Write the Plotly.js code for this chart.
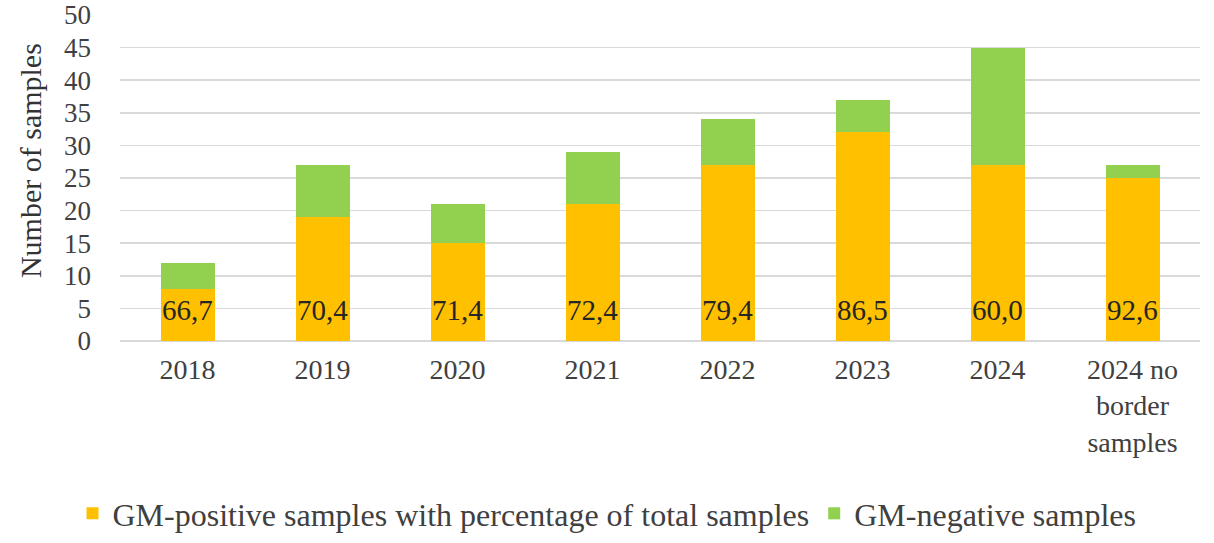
<!DOCTYPE html>
<html>
<head>
<meta charset="utf-8">
<script src="https://cdn.plot.ly/plotly-3.0.1.min.js"></script>
<style>html,body{margin:0;padding:0;background:#fff;}#chart{width:1214px;height:543px;}</style>
</head>
<body>
<div id="chart"></div>
<script>
const categories = ["2018","2019","2020","2021","2022","2023","2024","2024 no border samples"];
const tickLabels = ["2018","2019","2020","2021","2022","2023","2024","2024 no<br>border<br>samples"];
const positiveSamples = [8, 19, 15, 21, 27, 32, 27, 25];
const negativeSamples = [4, 8, 6, 8, 7, 5, 18, 2];
const percentLabels = ["66,7","70,4","71,4","72,4","79,4","86,5","60,0","92,6"];
const yTicks = [0,5,10,15,20,25,30,35,40,45,50];
const yTitle = "Number of samples";

const serif = "'Liberation Serif', 'Times New Roman', serif";

const traces = [
  {type:'bar', name:'GM-positive samples with percentage of total samples', x:categories, y:positiveSamples,
   marker:{color:'#FFC000'}, hoverinfo:'none'},
  {type:'bar', name:'GM-negative samples', x:categories, y:negativeSamples,
   marker:{color:'#92D050'}, hoverinfo:'none'}
];

const annotations = categories.map((c,i)=>({
  x:i, y:5, xref:'x', yref:'y', text:percentLabels[i], showarrow:false, yshift:-2,
  font:{family:serif, size:29, color:'#262626'}
}));
annotations.push({
  xref:'paper', yref:'paper', x:-0.083, y:0.553, xanchor:'center', yanchor:'middle',
  text:yTitle, textangle:-90, showarrow:false,
  font:{family:serif, size:30, color:'#333'}
});

const layout = {
  width:1214, height:543,
  margin:{l:120, r:14, t:15, b:202, autoexpand:false},
  barmode:'stack', bargap:0.6,
  paper_bgcolor:'#fff', plot_bgcolor:'#fff',
  font:{family:serif, size:27, color:'#404040'},
  xaxis:{type:'category', categoryorder:'array', categoryarray:categories,
         tickmode:'array', tickvals:categories, ticktext:tickLabels,
         tickfont:{family:serif, size:28, color:'#404040'}, showgrid:false, zeroline:false,
         showline:false, ticks:'', automargin:false, ticklabelstandoff:9},
  yaxis:{range:[0,50], tickvals:yTicks, showgrid:true, gridcolor:'#d9d9d9', gridwidth:1.5,
         zeroline:true, zerolinecolor:'#d9d9d9', zerolinewidth:1.5, automargin:false,
         tickfont:{family:serif, size:27, color:'#404040'}, ticks:'', ticklen:0, ticklabelstandoff:28,
         ticklabeloverflow:'allow'},
  legend:{orientation:'h', xref:'container', x:0.5, xanchor:'center', y:-0.445, yanchor:'top',
          font:{family:serif, size:32, color:'#404040'}, traceorder:'normal'},
  annotations:annotations,
  showlegend:true
};

Plotly.newPlot('chart', traces, layout, {displayModeBar:false, staticPlot:true});
</script>
</body>
</html>
